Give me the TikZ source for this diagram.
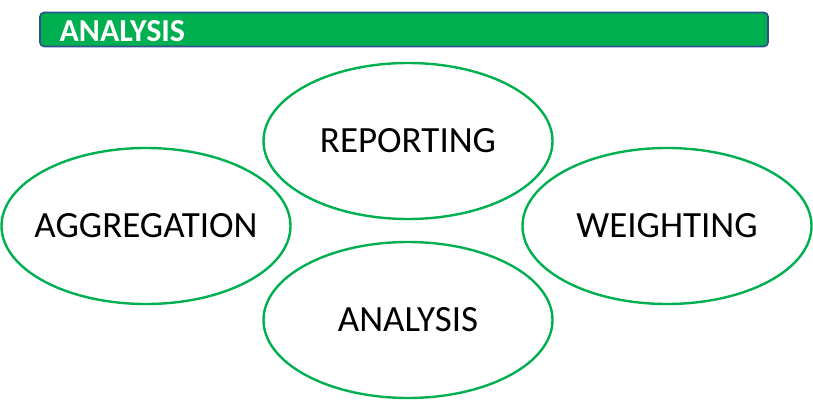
\documentclass[tikz,border=0pt]{standalone}
\usepackage{fontspec}
\setmainfont{Carlito}
\usepackage{xcolor}
\usetikzlibrary{shapes.geometric,positioning}
\definecolor{barGreen}{HTML}{00B050}
\definecolor{barBlue}{HTML}{2F528F}
\tikzset{
  stage/.style={ellipse, draw=barGreen, line width=2.4pt, fill=white,
    minimum width=289pt, minimum height=156pt, inner xsep=-40pt, inner ysep=0pt,
    font=\fontsize{37}{40}\selectfont, text=black},
  titlebar/.style={draw=barBlue, fill=barGreen, line width=1.6pt,
    rounded corners=4pt, minimum width=728pt, minimum height=34pt, inner sep=0pt}
}

\begin{document}
\begin{tikzpicture}[x=1pt, y=1pt]
  \useasboundingbox (0,0) rectangle (813,-401);
  % header bar
  \node[titlebar] (bar) at (404,-29.5) {};
  \node[anchor=west, text=white, font=\bfseries\fontsize{32}{34}\selectfont]
       (title) at (56,-31) {ANALYSIS};

  % the four stages
  \node[stage] (reporting)   at (408,-141) {REPORTING};
  \node[stage] (aggregation) at (146,-226) {AGGREGATION};
  \node[stage] (weighting)   at (667,-226) {WEIGHTING};
  \node[stage] (analysis)    at (408,-320) {ANALYSIS};
\end{tikzpicture}
\end{document}
